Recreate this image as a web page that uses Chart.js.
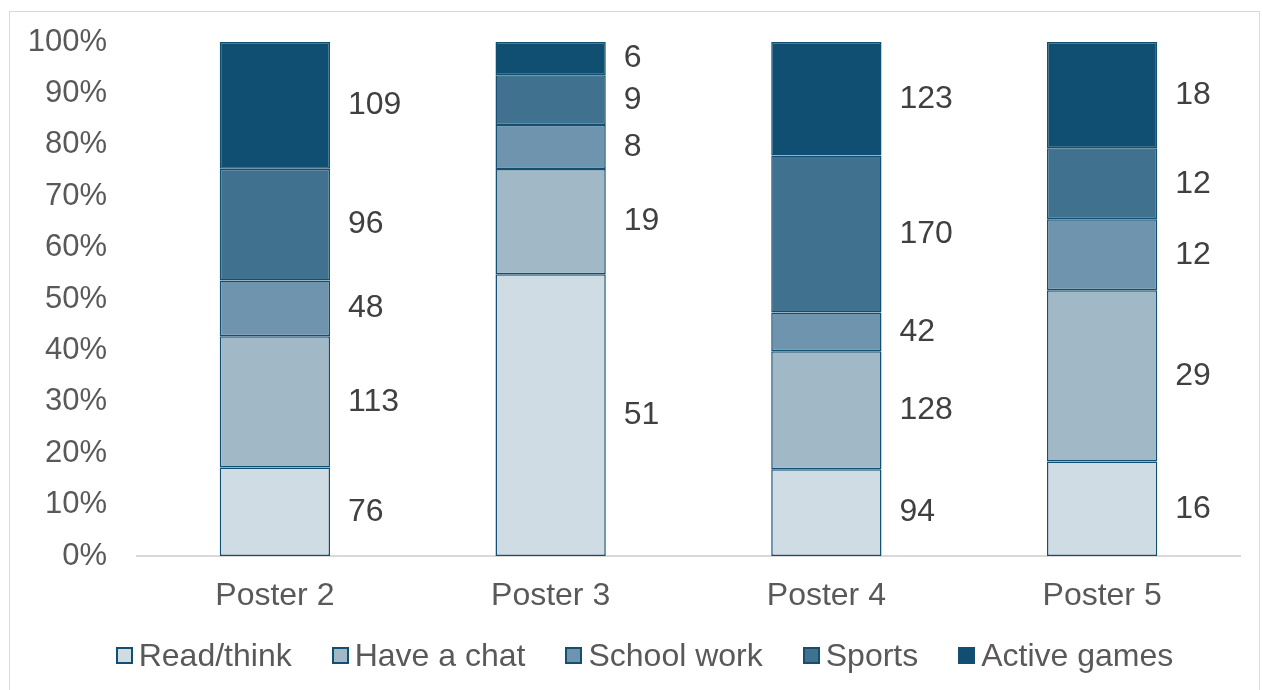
<!DOCTYPE html>
<html>
<head>
<meta charset="utf-8">
<script src="https://cdn.jsdelivr.net/npm/chart.js@4/dist/chart.umd.min.js"></script>
<style>
  body { margin: 0; background: #fff; font-family: "Liberation Sans", Arial, sans-serif; }
  #wrap { position: relative; width: 1263px; height: 690px; overflow: hidden; }
  #frame { position: absolute; left: 9px; top: 11px; width: 1251px; height: 700px; border: 1px solid #d9d9d9; box-sizing: border-box; }
  #chart { position: absolute; left: 0; top: 0; }
  #legend { position: absolute; left: 26px; top: 637px; width: 1237px; display: flex; justify-content: center; align-items: center; color: #595959; font-size: 32px; }
  .item { display: flex; align-items: center; margin: 0 20px; }
  .box { width: 17px; height: 17px; box-sizing: border-box; border: 2px solid #114F73; margin-right: 6px; }
</style>
</head>
<body>
<div id="wrap">
  <div id="frame"></div>
  <canvas id="chart" width="1263" height="690"></canvas>
  <div id="legend"></div>
</div>
<script>
const posters = ["Poster 2", "Poster 3", "Poster 4", "Poster 5"];
const activities = ["Read/think", "Have a chat", "School work", "Sports", "Active games"];
const readThink = [76, 51, 94, 16];
const haveChat = [113, 19, 128, 29];
const schoolWork = [48, 8, 42, 12];
const sports = [96, 9, 170, 12];
const activeGames = [109, 6, 123, 18];
const colours = ["#CFDCE4", "#A1B8C7", "#6E95AD", "#40718F", "#114F72"];

const counts = [readThink, haveChat, schoolWork, sports, activeGames];
const totals = posters.map((p, i) => counts.reduce((s, arr) => s + arr[i], 0));
const fontFamily = "'Liberation Sans', Arial, sans-serif";

const datasets = counts.map((arr, k) => ({
  label: activities[k],
  data: arr.map((v, i) => v / totals[i] * 100),
  raw: arr,
  backgroundColor: colours[k],
  borderColor: "#114F73",
  borderWidth: 1.5,
  borderSkipped: false,
  categoryPercentage: 1,
  barPercentage: 0.4
}));

// value labels to the right of each segment
const sideLabels = {
  id: "sideLabels",
  afterDatasetsDraw(chart) {
    const ctx = chart.ctx;
    ctx.save();
    ctx.font = "32px " + fontFamily;
    ctx.fillStyle = "#404040";
    ctx.textAlign = "left";
    ctx.textBaseline = "middle";
    chart.data.datasets.forEach((ds, k) => {
      chart.getDatasetMeta(k).data.forEach((bar, i) => {
        const y = (bar.y + bar.base) / 2;
        ctx.fillText(String(ds.raw[i]), bar.x + bar.width / 2 + 18, y);
      });
    });
    ctx.restore();
  }
};

new Chart(document.getElementById("chart").getContext("2d"), {
  type: "bar",
  data: { labels: posters, datasets: datasets },
  options: {
    responsive: false,
    animation: false,
    layout: { padding: { left: 30, right: 23, top: 42, bottom: 74 } },
    plugins: { legend: { display: false }, tooltip: { enabled: false } },
    scales: {
      x: {
        stacked: true,
        grid: { display: false, drawTicks: false },
        border: { display: true, color: "#d9d9d9", width: 2 },
        ticks: { color: "#595959", font: { size: 32, family: fontFamily }, padding: 21 },
        afterFit: s => { s.height = 60; }
      },
      y: {
        stacked: true,
        min: 0,
        max: 100,
        grid: { display: false, drawTicks: false },
        border: { display: false },
        ticks: {
          stepSize: 10,
          padding: 30,
          color: "#595959",
          font: { size: 31, family: fontFamily },
          callback: v => v + "%"
        },
        afterFit: s => { s.width = 107; s.paddingTop = 0; s.paddingBottom = 0; }
      }
    }
  },
  plugins: [sideLabels]
});

const legend = document.getElementById("legend");
activities.forEach((name, k) => {
  const item = document.createElement("div");
  item.className = "item";
  item.innerHTML = `<span class="box" style="background:${colours[k]}"></span><span>${name}</span>`;
  legend.appendChild(item);
});
</script>
</body>
</html>
